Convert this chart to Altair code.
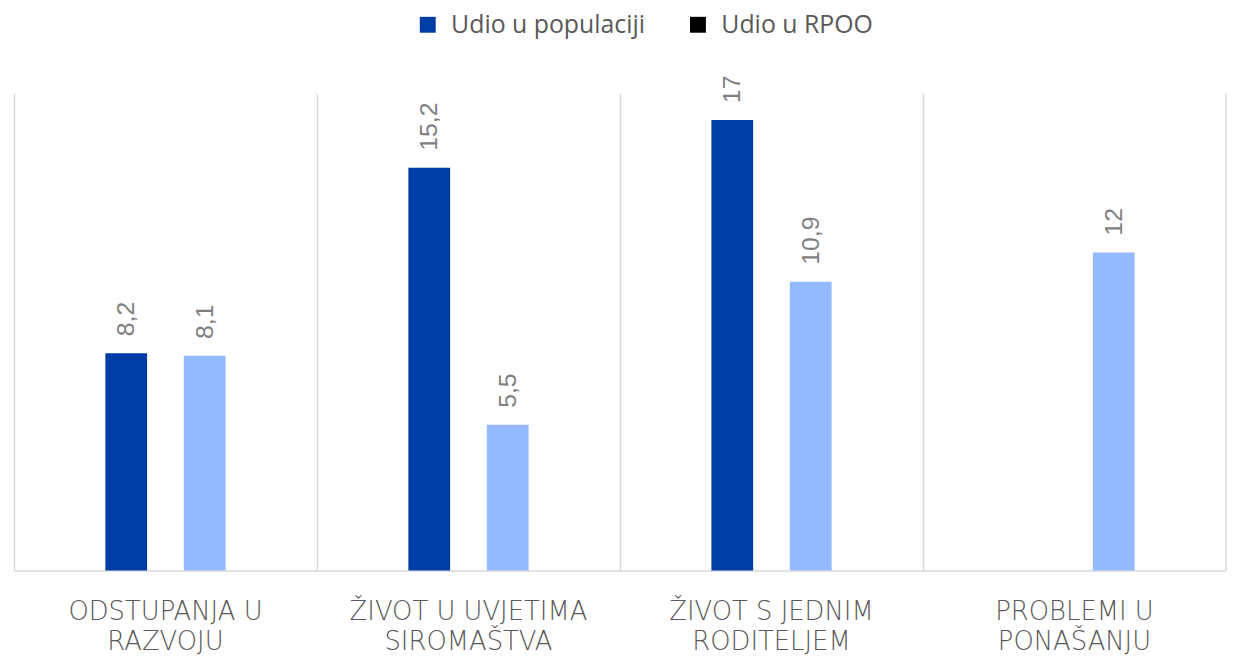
import altair as alt
import pandas as pd

categories = ["ODSTUPANJA U\nRAZVOJU", "ŽIVOT U UVJETIMA\nSIROMAŠTVA",
              "ŽIVOT S JEDNIM\nRODITELJEM", "PROBLEMI U\nPONAŠANJU"]
series = ["Udio u populaciji", "Udio u RPOO"]
udio_populacija = [8.2, 15.2, 17, None]
udio_rpoo = [8.1, 5.5, 10.9, 12]

DARK = "#003CA6"
LIGHT = "#93B9FF"
GRID = "#D9D9D9"

rows = []
for cat, a, b in zip(categories, udio_populacija, udio_rpoo):
    if a is not None:
        rows.append({"category": cat, "series": series[0], "value": a})
    if b is not None:
        rows.append({"category": cat, "series": series[1], "value": b})
df = pd.DataFrame(rows)

x_enc = alt.X(
    "category:N", sort=categories,
    scale=alt.Scale(paddingInner=0, paddingOuter=0),
    axis=alt.Axis(
        title=None, labelAngle=0, grid=True, bandPosition=0,
        gridColor=GRID, gridWidth=1.5, domainColor=GRID, domainWidth=1.5,
        ticks=False, labelExpr="split(datum.label, '\\n')",
        labelFont="DejaVu Sans", labelFontWeight=200, labelFontSize=26,
        labelColor="#595959", labelLineHeight=31, labelPadding=28,
        labelBaseline="top", labelLimit=500, labelOverlap=False,
    ),
)
xo_enc = alt.XOffset("series:N",
                     scale=alt.Scale(domain=["_l"] + series + ["_r"],
                                     paddingInner=0.468, paddingOuter=0.165))
y_enc = alt.Y("value:Q", scale=alt.Scale(domain=[0, 18], nice=False), axis=None)

base = alt.Chart(df).encode(x=x_enc, xOffset=xo_enc, y=y_enc)

bars = base.mark_bar().encode(
    color=alt.Color("series:N", scale=alt.Scale(domain=series, range=[DARK, LIGHT]), legend=None)
)

labels = base.transform_calculate(
    label="replace(toString(datum.value), '.', ',')"
).mark_text(angle=270, align="left", baseline="middle", dx=17,
            fontSize=25, font="Liberation Sans", color="#7F7F7F").encode(text="label:N")

legend_layer = alt.Chart(pd.DataFrame({"key": series})).mark_square(opacity=0).encode(
    x=alt.value(0), y=alt.value(0),
    fill=alt.Fill("key:N", scale=alt.Scale(domain=series, range=[DARK, "#000000"]),
                  legend=alt.Legend(title=None, orient="none", legendX=404, legendY=-82,
                                    direction="horizontal", symbolType="square",
                                    symbolSize=256, symbolOpacity=1, symbolStrokeWidth=0,
                                    labelFontSize=25, labelFont="Open Sans",
                                    labelColor="#595959", columnPadding=40,
                                    labelOffset=11, padding=0, labelLimit=400))
)

right_rule = alt.Chart(pd.DataFrame({"a": [0]})).mark_rule(color=GRID, strokeWidth=1.5).encode(
    x=alt.value(1220), y=alt.value(0), y2=alt.value(480)
)

chart = alt.layer(bars, labels, legend_layer, right_rule).properties(
    width=1220, height=480,
    padding={"left": 6, "top": 84, "right": 1, "bottom": 86},
    autosize="none",
).resolve_scale(fill="independent", color="independent").configure_view(stroke=None)

chart.save("out.html", embed_options={"renderer": "svg", "actions": False})
